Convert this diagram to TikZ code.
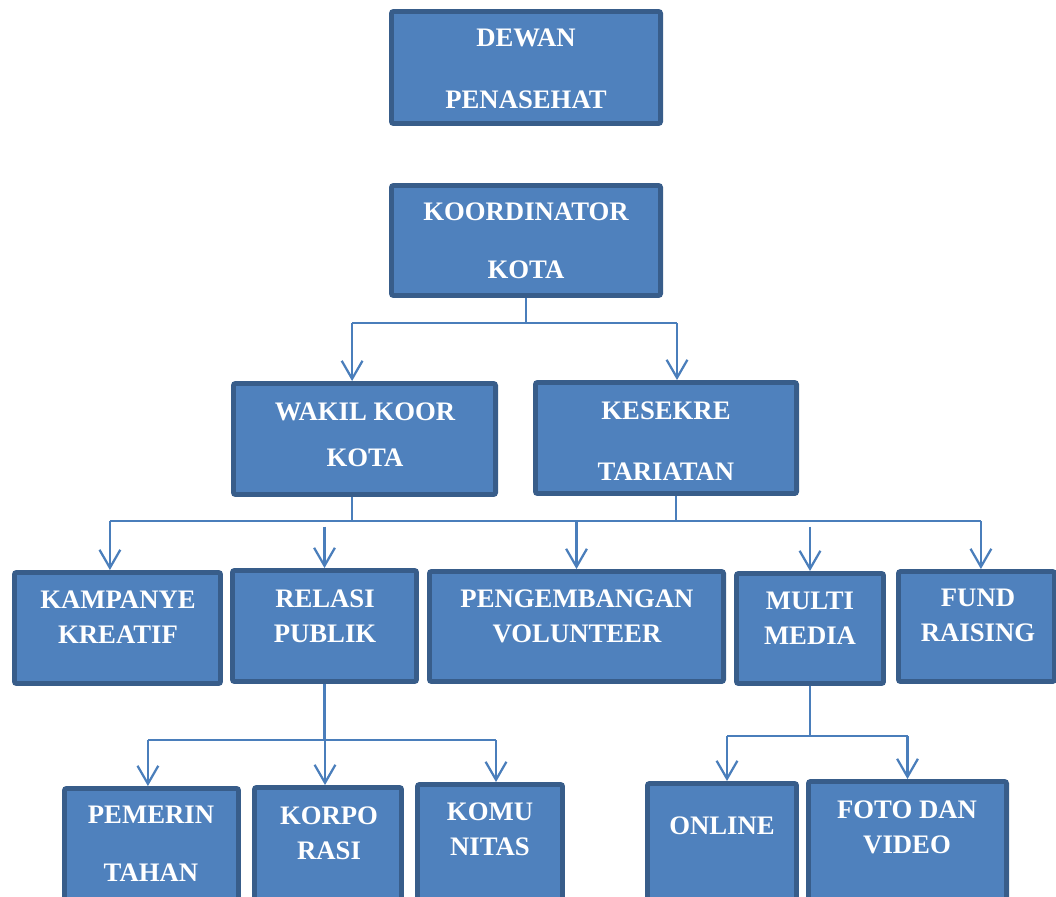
\documentclass[tikz,border=0pt]{standalone}
\usepackage{fontspec}
\setmainfont{Liberation Serif}
\usetikzlibrary{arrows.meta,positioning,calc}
\definecolor{boxfill}{HTML}{4F81BD}
\definecolor{boxline}{HTML}{385D8A}
\definecolor{linkblue}{HTML}{4A7EBB}

\begin{document}
\begin{tikzpicture}[
    x=0.025cm, y=-0.025cm,
    box/.style={draw=boxline, fill=boxfill, line width=3.5pt, rounded corners=1.5pt,
      inner sep=0pt, minimum height=2.75cm},
    txt/.style={text=white, font=\bfseries\fontsize{19}{25}\selectfont, align=center, inner sep=0pt},
    link/.style={draw=linkblue, line width=1.6pt},
    arr/.style={link, -{Straight Barb[length=0.45cm, width=0.52cm]}},
  ]
  \useasboundingbox (0,0) rectangle (1056,896);
  \clip (0,0) rectangle (1056,896);

  % top two levels
  \node[box, minimum width=6.725cm, minimum height=2.8cm] (dewan) at (526,67.5) {};
  \node[box, minimum width=6.725cm] (koord) at (526,240.5) {};
  \node[box, minimum width=6.55cm, minimum height=2.775cm] (wakil) at (364.5,439) {};
  \node[box, minimum width=6.525cm, minimum height=2.775cm] (sekre) at (666,438) {};

  % divisions
  \node[box, minimum width=5.15cm, minimum height=2.775cm] (kamp) at (117.5,628) {};
  \node[box, minimum width=4.6cm, minimum height=2.775cm] (relasi) at (324.5,626) {};
  \node[box, minimum width=7.35cm] (peng) at (576.5,626.5) {};
  \node[box, minimum width=3.675cm] (multi) at (810,628.5) {};
  \node[box, minimum width=3.9cm] (fund) at (976.5,626.5) {};

  % sub divisions (cut by the page edge)
  \node[box, minimum width=4.35cm, minimum height=3.2cm] (pem) at (151.5,852.5) {};
  \node[box, minimum width=3.675cm, minimum height=3.2cm] (korpo) at (328,851.5) {};
  \node[box, minimum width=3.625cm, minimum height=3.2cm] (komu) at (490,848.5) {};
  \node[box, minimum width=3.725cm, minimum height=3.2cm] (online) at (722,847.5) {};
  \node[box, minimum width=4.95cm, minimum height=3.2cm] (foto) at (907.5,845.5) {};

  % texts
  \node[txt] (dewan-t) at (526,69) {DEWAN\\[19pt]PENASEHAT};
  \node[txt] (koord-t) at (526,241) {KOORDINATOR\\[16.3pt]KOTA};
  \node[txt] (wakil-t) at (365,435) {WAKIL KOOR\\[7.7pt]KOTA};
  \node[txt] (sekre-t) at (666,441.5) {KESEKRE\\[18.4pt]TARIATAN};
  \node[txt] (kamp-t) at (118,617.5) {KAMPANYE\\KREATIF};
  \node[txt] (relasi-t) at (325,616) {RELASI\\PUBLIK};
  \node[txt] (peng-t) at (577,616.5) {PENGEMBANGAN\\VOLUNTEER};
  \node[txt] (multi-t) at (810,618) {MULTI\\MEDIA};
  \node[txt] (fund-t) at (978,615.5) {FUND\\RAISING};
  \node[txt] (pem-t) at (151,844) {PEMERIN\\[16.3pt]TAHAN};
  \node[txt] (korpo-t) at (329,833) {KORPO\\RASI};
  \node[txt] (komu-t) at (490,829.5) {KOMU\\NITAS};
  \node[txt] (online-t) at (722,826) {ONLINE};
  \node[txt] (foto-t) at (907,827.5) {FOTO DAN\\VIDEO};

  % where the arrows enter and the lines leave
  \foreach \n/\dx in {wakil/-0.31, sekre/0.275, kamp/-0.19, relasi/0, peng/0, multi/0,
      fund/0.11, pem/-0.09, korpo/-0.075, komu/0.15, online/0.125, foto/0}
    \coordinate (\n-in) at ([xshift=\dx cm]\n.north);
  \coordinate (wakil-out) at ([xshift=-0.31cm]wakil.south);
  \coordinate (sekre-out) at ([xshift=0.25cm]sekre.south);
  \coordinate (bus1) at (0,323);
  \coordinate (bus2) at (0,521);
  \coordinate (bus3) at (0,740);
  \coordinate (bus4) at (0,736);

  % koordinator -> wakil, sekre
  \draw[link] (koord.south) -- (koord.south |- bus1);
  \draw[link] (wakil-in |- bus1) -- (sekre-in |- bus1);
  \foreach \n in {wakil,sekre}
    \draw[arr] (\n-in |- bus1) -- (\n-in);

  % wakil, sekre -> divisions
  \draw[link] (wakil-out) -- (wakil-out |- bus2);
  \draw[link] (sekre-out) -- (sekre-out |- bus2);
  \draw[link] (kamp-in |- bus2) -- (fund-in |- bus2);
  \foreach \n in {kamp,peng,fund}
    \draw[arr] (\n-in |- bus2) -- (\n-in);
  \foreach \n in {relasi,multi}
    \draw[arr] ([yshift=-4pt]\n-in |- bus2) -- (\n-in);

  % relasi publik -> sub divisions
  \draw[link] (relasi.south) -- (relasi.south |- bus3);
  \draw[link] (pem-in |- bus3) -- (komu-in |- bus3);
  \foreach \n in {pem,korpo,komu}
    \draw[arr] (\n-in |- bus3) -- (\n-in);

  % multi media -> sub divisions
  \draw[link] (multi.south) -- (multi.south |- bus4);
  \draw[link] (online-in |- bus4) -- (foto-in |- bus4);
  \foreach \n in {online,foto}
    \draw[arr] (\n-in |- bus4) -- (\n-in);
\end{tikzpicture}
\end{document}
